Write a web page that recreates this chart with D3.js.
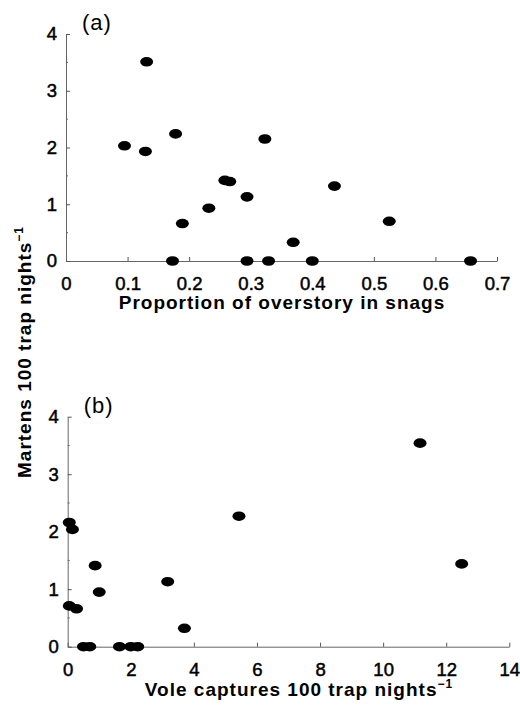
<!DOCTYPE HTML>
<html>
<head>
	<meta charset="utf-8">
	<title>Martens vs snags and vole captures</title>
	<script src="https://cdnjs.cloudflare.com/ajax/libs/d3/7.8.5/d3.min.js" type="text/javascript"></script>
	<style>
		body { margin:0; background:#ffffff; }
		text { font-family:"Liberation Sans", Arial, sans-serif; fill:#000; }
	</style>
</head>
<body>
	<div id="main"></div>
<script>
// (a) proportion of overstory in snags vs martens per 100 trap nights
var snagProp = [0.095, 0.131, 0.129, 0.178, 0.173, 0.189, 0.232, 0.258, 0.266, 0.294, 0.294, 0.323, 0.329, 0.369, 0.400, 0.436, 0.525, 0.657];
var martensA = [2.03, 3.51, 1.93, 2.24, 0, 0.66, 0.93, 1.42, 1.40, 1.13, 0, 2.15, 0, 0.33, 0, 1.32, 0.70, 0];

// (b) vole captures per 100 trap nights vs martens
var voleCaps = [0.05, 0.15, 0.05, 0.28, 0.87, 1.00, 0.50, 0.70, 1.64, 2.00, 2.22, 3.17, 3.70, 5.43, 11.17, 12.49];
var martensB = [2.16, 2.04, 0.71, 0.66, 1.41, 0.95, 0, 0, 0, 0, 0, 1.13, 0.32, 2.27, 3.54, 1.44];

var xTicksA = [0, 0.1, 0.2, 0.3, 0.4, 0.5, 0.6, 0.7];
var xTicksB = [0, 2, 4, 6, 8, 10, 12, 14];
var yTicks = [0, 1, 2, 3, 4];
var yMinor = [0.5, 1.5, 2.5, 3.5];

var svg = d3.select('#main').append('svg')
	.attr('width', 520)
	.attr('height', 708);

function drawPanel(opt){
	var x = d3.scaleLinear().domain([opt.xTicks[0], opt.xTicks[opt.xTicks.length-1]]).range(opt.xRange);
	var y = d3.scaleLinear().domain([0, 4]).range(opt.yRange);
	var g = svg.append('g');

	// x axis, ticks pointing inward
	var xa = g.append('g')
		.attr('transform', 'translate(0,' + opt.yRange[0] + ')')
		.call(d3.axisBottom(x).tickValues(opt.xTicks).tickSize(-4).tickSizeOuter(0).tickPadding(16)
			.tickFormat(function(d){ return String(d); }));

	// y axis
	var ya = g.append('g')
		.attr('transform', 'translate(' + opt.xRange[0] + ',0)')
		.call(d3.axisLeft(y).tickValues(yTicks).tickSize(-4).tickSizeOuter(0).tickPadding(9)
			.tickFormat(d3.format('d')));

	// minor y ticks
	g.selectAll('line.minor')
		.data(yMinor)
		.join('line')
		.attr('class', 'minor')
		.attr('x1', opt.xRange[0]).attr('x2', opt.xRange[0] + 2)
		.attr('y1', function(d){ return y(d); })
		.attr('y2', function(d){ return y(d); })
		.attr('stroke', '#666');

	[xa, ya].forEach(function(a){
		a.select('.domain').attr('stroke', '#666').attr('stroke-width', 1);
		a.selectAll('.tick line').attr('stroke', '#555');
		a.selectAll('.tick text')
			.attr('font-size', '18.5px')
			.attr('font-family', '"Liberation Sans", Arial, sans-serif')
			.attr('fill', '#000')
			.attr('stroke', '#000')
			.attr('stroke-width', 0.5);
	});

	// points
	g.selectAll('ellipse')
		.data(opt.xs)
		.join('ellipse')
		.attr('cx', function(d){ return x(d); })
		.attr('cy', function(d, i){ return y(opt.ys[i]); })
		.attr('rx', 6.5)
		.attr('ry', 4.8)
		.attr('fill', '#000');

	// panel letter
	g.append('text')
		.attr('x', opt.xRange[0] + 16)
		.attr('y', opt.yRange[1] - 4)
		.attr('font-size', '22px')
		.attr('letter-spacing', '1px')
		.text(opt.letter);

	return {x: x, y: y};
}

drawPanel({xTicks: xTicksA, xRange: [66, 497], yRange: [261, 34], xs: snagProp, ys: martensA, letter: '(a)'});
drawPanel({xTicks: xTicksB, xRange: [67.7, 509.3], yRange: [646.7, 416.7], xs: voleCaps, ys: martensB, letter: '(b)'});

// axis titles
svg.append('text')
	.attr('x', 282).attr('y', 309)
	.attr('text-anchor', 'middle')
	.attr('font-size', '19px').attr('font-weight', 'bold').attr('letter-spacing', '1px')
	.text('Proportion of overstory in snags');

var tb = svg.append('text')
	.attr('x', 299).attr('y', 696)
	.attr('text-anchor', 'middle')
	.attr('font-size', '19px').attr('font-weight', 'bold').attr('letter-spacing', '1px');
tb.append('tspan').text('Vole captures 100 trap nights');
tb.append('tspan').attr('dy', -8).attr('font-size', '12px').text('\u22121');

var ty = svg.append('text')
	.attr('transform', 'translate(31,478) rotate(-90)')
	.attr('font-size', '19px').attr('font-weight', 'bold').attr('letter-spacing', '1px');
ty.append('tspan').text('Martens 100 trap nights');
ty.append('tspan').attr('dy', -8).attr('font-size', '12px').text('\u22121');
</script>
</body>
</html>
